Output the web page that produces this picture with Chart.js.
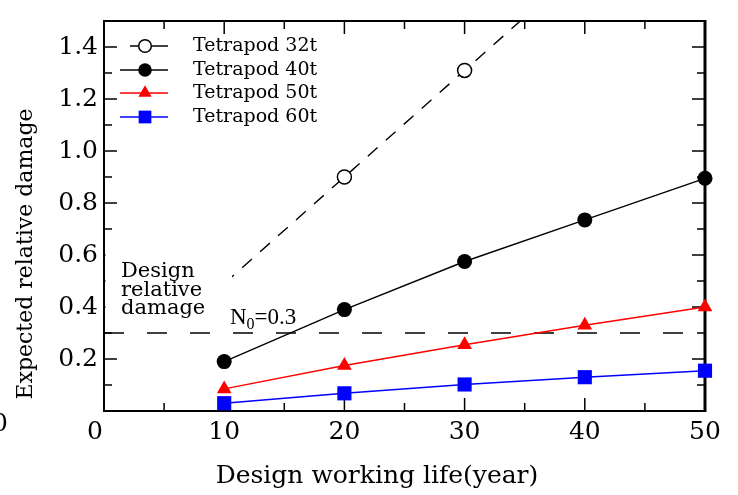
<!DOCTYPE html>
<html>
<head>
<meta charset="utf-8">
<script src="https://cdn.jsdelivr.net/npm/chart.js@4/dist/chart.umd.min.js"></script>
<style>
  html,body{margin:0;padding:0;background:#fff;}
</style>
</head>
<body>
<canvas id="chart" width="738" height="495"></canvas>
<script>
// Values
const years = [10, 20, 30, 40, 50];
const t32 = [0.49, 0.90, 1.31, 1.72, 2.13];
const t40 = [0.19, 0.39, 0.575, 0.735, 0.895];
const t50 = [0.085, 0.175, 0.255, 0.33, 0.40];
const t60 = [0.03, 0.068, 0.102, 0.13, 0.155];
const designDamage = 0.3;
const seriesNames = ['Tetrapod 32t', 'Tetrapod 40t', 'Tetrapod 50t', 'Tetrapod 60t'];
const xTicks = [0, 10, 20, 30, 40, 50];
const yTicks = [0.2, 0.4, 0.6, 0.8, 1.0, 1.2, 1.4];

const serif = '"Liberation Serif", "Times New Roman", serif';
const wide = '"DejaVu Serif", serif';
const pts = arr => years.map((x, i) => ({x: x, y: arr[i]}));
const clip = {left: 12, right: 20, top: 0, bottom: 12};

// frame, inward ticks, notes and legend
const decor = {
  id: 'decor',
  beforeDatasetsDraw(chart){
    const ctx = chart.ctx, a = chart.chartArea;
    const xs = chart.scales.x, ys = chart.scales.y;
    ctx.save();
    ctx.strokeStyle = '#000';
    ctx.lineWidth = 1.5;
    for(let i = 1; i < 10; i++){
      const px = xs.getPixelForValue(i * 5);
      const len = i % 2 === 0 ? 13 : 8;
      ctx.beginPath();
      ctx.moveTo(px, a.bottom); ctx.lineTo(px, a.bottom - len);
      ctx.moveTo(px, a.top); ctx.lineTo(px, a.top + len);
      ctx.stroke();
    }
    for(let i = 1; i < 15; i++){
      const py = ys.getPixelForValue(i / 10);
      const len = i % 2 === 0 ? 13 : 8;
      ctx.beginPath();
      ctx.moveTo(a.left, py); ctx.lineTo(a.left + len, py);
      ctx.moveTo(a.right, py); ctx.lineTo(a.right - len, py);
      ctx.stroke();
    }
    ctx.lineWidth = 2;
    ctx.beginPath();
    ctx.moveTo(a.left, a.top); ctx.lineTo(a.right, a.top);
    ctx.moveTo(a.left, a.top - 1); ctx.lineTo(a.left, a.bottom + 1);
    ctx.moveTo(a.left - 1, a.bottom); ctx.lineTo(a.right + 1, a.bottom);
    ctx.stroke();
    ctx.lineWidth = 3;
    ctx.beginPath();
    ctx.moveTo(a.right, a.top - 1); ctx.lineTo(a.right, a.bottom + 1);
    ctx.stroke();
    ctx.restore();
  },
  afterDatasetsDraw(chart){
    const ctx = chart.ctx, a = chart.chartArea;
    ctx.save();
    // white label box over the plot
    ctx.fillStyle = '#fff';
    ctx.fillRect(a.left + 1.5, 252, 232 - a.left - 1.5, 72);
    ctx.fillStyle = '#000';
    ctx.textAlign = 'left';
    ctx.textBaseline = 'alphabetic';
    ctx.font = '21px ' + wide;
    ctx.fillText('Design', 121, 277);
    ctx.fillText('relative', 121, 296);
    ctx.fillText('damage', 121, 314);

    ctx.font = '23px ' + serif;
    ctx.fillText('N', 230, 324);
    let w = ctx.measureText('N').width;
    ctx.font = '16px ' + serif;
    ctx.fillText('0', 230 + w, 329);
    w += ctx.measureText('0').width;
    ctx.font = '23px ' + serif;
    ctx.fillText('=0.3', 230 + w, 324);

    // legend
    const rows = [46, 70, 93, 117];
    chart.data.datasets.slice(0, 4).forEach((ds, i) => {
      const y = rows[i];
      ctx.strokeStyle = ds.borderColor;
      ctx.lineWidth = 1.5;
      ctx.beginPath();
      ctx.moveTo(i === 0 ? 130 : 120, y); ctx.lineTo(168, y);
      ctx.stroke();
      ctx.fillStyle = ds.pointBackgroundColor;
      ctx.strokeStyle = ds.pointBorderColor;
      Chart.helpers.drawPoint(ctx, {
        pointStyle: ds.pointStyle, radius: ds.pointRadius * 0.9,
        rotation: 0, borderWidth: ds.pointBorderWidth
      }, 145, y);
      ctx.fillStyle = '#000';
      ctx.font = '19px ' + wide;
      ctx.textBaseline = 'middle';
      ctx.fillText(seriesNames[i], 193, y);
    });

    // axis titles and the stray zero labels
    ctx.textBaseline = 'alphabetic';
    ctx.textAlign = 'center';
    ctx.font = '25px ' + wide;
    ctx.fillText('Design working life(year)', 377, 483);
    ctx.save();
    ctx.translate(32, 254);
    ctx.rotate(-Math.PI / 2);
    ctx.font = '22px ' + wide;
    ctx.fillText('Expected relative damage', 0, 0);
    ctx.restore();
    ctx.font = '25px ' + wide;
    ctx.textBaseline = 'middle';
    ctx.fillText('0', 95, 432);
    ctx.fillText('0', 0, 424);
    ctx.restore();
  }
};

new Chart(document.getElementById('chart'), {
  type: 'line',
  data: {
    datasets: [
      {label: seriesNames[0], data: pts(t32), borderColor: '#000', borderWidth: 1.4, borderDash: [13, 11],
       pointStyle: 'circle', pointRadius: 7, pointBackgroundColor: '#fff', pointBorderColor: '#000', pointBorderWidth: 1.5, clip: clip},
      {label: seriesNames[1], data: pts(t40), borderColor: '#000', borderWidth: 1.4,
       pointStyle: 'circle', pointRadius: 7.5, pointBackgroundColor: '#000', pointBorderColor: '#000', pointBorderWidth: 0, clip: clip},
      {label: seriesNames[2], data: pts(t50), borderColor: '#ff0000', borderWidth: 1.4,
       pointStyle: 'triangle', pointRadius: 8.5, pointBackgroundColor: '#ff0000', pointBorderColor: '#ff0000', pointBorderWidth: 0, clip: clip},
      {label: seriesNames[3], data: pts(t60), borderColor: '#0000ff', borderWidth: 1.4,
       pointStyle: 'rect', pointRadius: 10, pointBackgroundColor: '#0000ff', pointBorderColor: '#0000ff', pointBorderWidth: 0, clip: clip},
      {label: 'N0', data: [{x: 0, y: designDamage}, {x: 50, y: designDamage}], borderColor: '#000', borderWidth: 1.4,
       borderDash: [20, 23], pointRadius: 0, clip: clip}
    ]
  },
  options: {
    responsive: false,
    animation: false,
    layout: {padding: {top: 7, right: 33, left: 0, bottom: 0}},
    plugins: {legend: {display: false}, tooltip: {enabled: false}},
    scales: {
      x: {
        type: 'linear', min: 0, max: 50,
        afterBuildTicks: s => { s.ticks = xTicks.map(v => ({value: v})); },
        afterFit: s => { s.height = 84; },
        ticks: {color: '#000', font: {family: wide, size: 25}, padding: 6, maxRotation: 0, autoSkip: false,
                callback: v => v === 0 ? '' : String(v)},
        grid: {display: false, drawTicks: false},
        border: {display: false}
      },
      y: {
        type: 'linear', min: 0, max: 1.5,
        afterBuildTicks: s => { s.ticks = yTicks.map(v => ({value: v})); },
        afterFit: s => { s.width = 104; },
        ticks: {color: '#000', font: {family: wide, size: 25}, padding: 6, callback: v => v.toFixed(1)},
        grid: {display: false, drawTicks: false},
        border: {display: false}
      }
    }
  },
  plugins: [decor]
});
</script>
</body>
</html>
